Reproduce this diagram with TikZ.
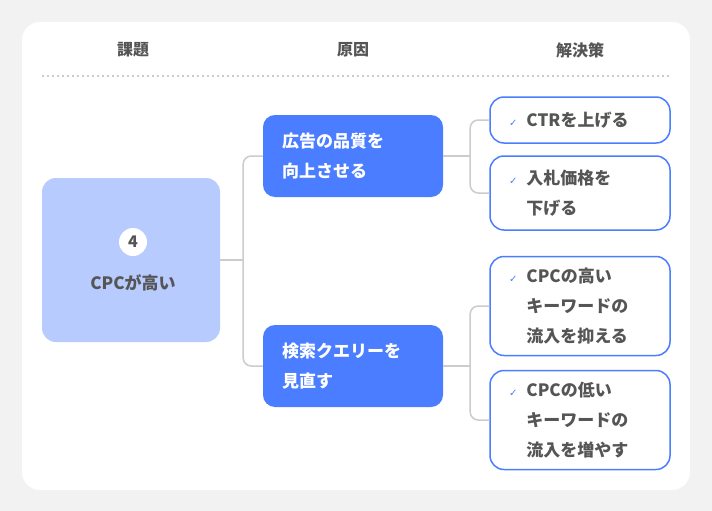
\documentclass[tikz,border=0pt]{standalone}
\usepackage{fontspec}
\newfontfamily\cjk{Noto Sans CJK JP}
\newfontfamily\symfont{DejaVu Sans}
\usetikzlibrary{calc}
\definecolor{pageGray}{HTML}{F2F2F2}
\definecolor{textGray}{HTML}{555555}
\definecolor{lineGray}{HTML}{CCCCCC}
\definecolor{mainBlue}{HTML}{4A7DFF}
\definecolor{paleBlue}{HTML}{B8CBFF}
\newcommand{\tick}{\makebox[0pt][r]{\color{mainBlue}\symfont\fontsize{10}{10}\selectfont ✓\hspace{9pt}}}
\begin{document}
\begin{tikzpicture}[x=1pt,y=-1pt,
  headStyle/.style={font=\cjk\bfseries\fontsize{16}{20}\selectfont,text=textGray},
  causeStyle/.style={rounded corners=12pt,fill=mainBlue,minimum width=180pt,minimum height=82pt},
  fixStyle/.style={draw=mainBlue,line width=1.5pt,fill=white,rounded corners=14pt,minimum width=180pt},
  labelStyle/.style={anchor=west,align=left,inner sep=0pt,font=\cjk\bfseries\fontsize{17}{30}\selectfont},
  connStyle/.style={draw=lineGray,line width=1.5pt,rounded corners=8pt}
]
%% Page and card.
\fill[pageGray] (0,0) rectangle (712,511);
\fill[white,rounded corners=18pt] (22,22) rectangle (690,490);
\useasboundingbox (0,0) rectangle (712,511);
%%
%% Column headers.
\node[headStyle] (hIssue) at (133,50) {課題};
\node[headStyle] (hCause) at (353,50) {原因};
\node[headStyle] (hFix) at (580,50) {解決策};
\draw[lineGray,line width=2pt,dash pattern=on 2pt off 3pt] (42,76) -- (670,76);
%%
%% The issue.
\node[fill=paleBlue,rounded corners=14pt,minimum width=178pt,minimum height=164pt] (issue) at (131,260) {};
\node[circle,fill=white,minimum size=28pt,inner sep=0pt,font=\cjk\bfseries\fontsize{16}{16}\selectfont,text=textGray] (num) at (133,242) {4};
\node[font=\cjk\bfseries\fontsize{17}{20}\selectfont,text=textGray] (issueText) at (133,283) {CPCが高い};
%%
%% The causes.
\node[causeStyle] (causeA) at (353,156) {};
\node[causeStyle] (causeB) at (353,366) {};
\node[labelStyle,text=white] (causeAText) at ($(causeA.west)+(19,0)$) {広告の品質を\\向上させる};
\node[labelStyle,text=white] (causeBText) at ($(causeB.west)+(19,0)$) {検索クエリーを\\見直す};
%%
%% The fixes.
\node[fixStyle,minimum height=46pt] (fixA) at (580,120) {};
\node[fixStyle,minimum height=74pt] (fixB) at (580,193) {};
\node[fixStyle,minimum height=99pt] (fixC) at (580,306) {};
\node[fixStyle,minimum height=99pt] (fixD) at (580,420) {};
\node[labelStyle,text=textGray] (fixAText) at ($(fixA.west)+(37,0)$) {\tick CTRを上げる};
\node[labelStyle,text=textGray] (fixBText) at ($(fixB.west)+(37,0)$) {\tick 入札価格を\\下げる};
\node[labelStyle,text=textGray] (fixCText) at ($(fixC.west)+(37,0)$) {\tick CPCの高い\\キーワードの\\流入を抑える};
\node[labelStyle,text=textGray] (fixDText) at ($(fixD.west)+(37,0)$) {\tick CPCの低い\\キーワードの\\流入を増やす};
%%
%% Connectors.
\coordinate (jIssue) at ($(issue.east)+(23,0)$);
\coordinate (jA) at ($(causeA.east)+(27,0)$);
\coordinate (jB) at ($(causeB.east)+(27,0)$);
\draw[connStyle] (issue.east) -- (jIssue);
\draw[connStyle] (causeA.west) -| (jIssue) |- (causeB.west);
\draw[connStyle] (causeA.east) -- (jA);
\draw[connStyle] (fixA.west) -| (jA) |- (fixB.west);
\draw[connStyle] (causeB.east) -- (jB);
\draw[connStyle] (fixC.west) -| (jB) |- (fixD.west);
\end{tikzpicture}
\end{document}
